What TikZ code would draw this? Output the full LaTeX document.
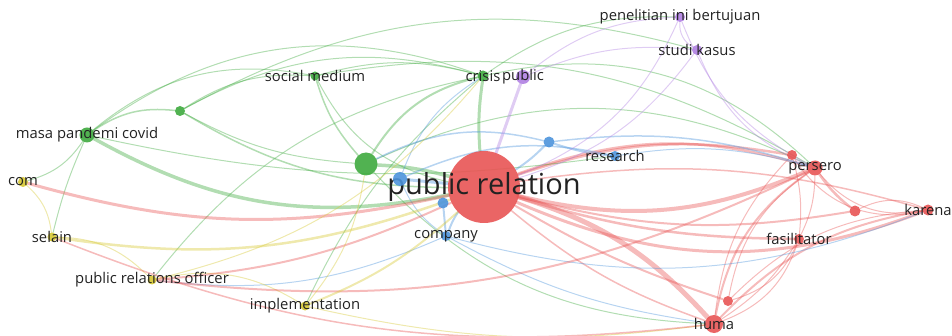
\documentclass[tikz,border=0pt]{standalone}
\usepackage{fontspec}
\setmainfont{Open Sans}
\usetikzlibrary{backgrounds}

\definecolor{vosred}{RGB}{232,84,84}
\definecolor{vosgreen}{RGB}{62,170,62}
\definecolor{vosblue}{RGB}{76,148,220}
\definecolor{vosyellow}{RGB}{214,200,50}
\definecolor{vospurple}{RGB}{176,128,226}
\definecolor{voslabel}{RGB}{34,34,34}

\tikzset{
  kw/.style={circle, inner sep=0pt, fill=#1, fill opacity=0.9, draw=none},
  lbl/.style={text=voslabel, opacity=1, font=\fontsize{14.8}{14.8}\selectfont},
  biglbl/.style={text=voslabel, opacity=1, font=\fontsize{29}{29}\selectfont},
  link/.style={draw=#1, draw opacity=0.4, line cap=round}
}

\begin{document}
\begin{tikzpicture}[x=1pt, y=-1pt]
\useasboundingbox (0,0) rectangle (952,336);

% red cluster
\node[kw=vosred, minimum size=72pt, label={[biglbl]center:public relation}] (pr) at (484,187) {};
\node[kw=vosred, minimum size=18pt, label={[lbl]center:huma}] (huma) at (714,324) {};
\node[kw=vosred, minimum size=15pt, label={[lbl]center:persero}] (persero) at (815,168) {};
\node[kw=vosred, minimum size=11pt, label={[lbl]center:karena}] (karena) at (928,210) {};
\node[kw=vosred, minimum size=10pt, label={[lbl]center:fasilitator}] (fasil) at (799,239) {};
\node[kw=vosred, minimum size=10pt] (ra) at (792,155) {};
\node[kw=vosred, minimum size=11pt] (rb) at (855,211) {};
\node[kw=vosred, minimum size=10pt] (rc) at (728,301) {};

% green cluster
\node[kw=vosgreen, minimum size=23pt] (gbig) at (366,164) {};
\node[kw=vosgreen, minimum size=10pt] (gsmall) at (180,111) {};
\node[kw=vosgreen, minimum size=15pt, label={[lbl]center:masa pandemi covid}] (masa) at (87,135) {};
\node[kw=vosgreen, minimum size=9pt, label={[lbl]center:social medium}] (social) at (315,76) {};
\node[kw=vosgreen, minimum size=11pt, label={[lbl]center:crisis}] (crisis) at (483,76) {};

% blue cluster
\node[kw=vosblue, minimum size=14pt] (ba) at (400,179) {};
\node[kw=vosblue, minimum size=11pt] (bb) at (443,203) {};
\node[kw=vosblue, minimum size=11pt] (bc) at (549,142) {};
\node[kw=vosblue, minimum size=10pt, label={[lbl]center:company}] (company) at (446,236) {};
\node[kw=vosblue, minimum size=10pt, label={[lbl]center:research}] (research) at (615,156) {};

% purple cluster
\node[kw=vospurple, minimum size=14pt, label={[lbl]center:public}] (public) at (523,77) {};
\node[kw=vospurple, minimum size=10pt, label={[lbl]center:penelitian ini bertujuan}] (penelitian) at (680,17) {};
\node[kw=vospurple, minimum size=10pt, label={[lbl]center:studi kasus}] (studi) at (697,50) {};

% yellow cluster
\node[kw=vosyellow, minimum size=10pt, label={[lbl]center:com}] (com) at (23,182) {};
\node[kw=vosyellow, minimum size=9pt, label={[lbl]center:selain}] (selain) at (52,237) {};
\node[kw=vosyellow, minimum size=9pt, label={[lbl]center:public relations officer}] (officer) at (152,280) {};
\node[kw=vosyellow, minimum size=9pt, label={[lbl]center:implementation}] (implementation) at (305,306) {};

\begin{pgfonlayer}{background}
% links: from/to/colour/width/bend
\foreach \a/\b/\c/\w/\bb in {
  pr/huma/vosred/5/15, pr/persero/vosred/4/-18, pr/persero/vosred/2.5/18,
  pr/karena/vosred/3/-22, pr/fasil/vosred/2.5/-8, pr/ra/vosred/2.5/14,
  pr/rb/vosred/2/-12, pr/rc/vosred/2/-6, huma/persero/vosred/2/22,
  huma/karena/vosred/2/18, persero/rb/vosred/2.5/-8, persero/fasil/vosred/1/12,
  persero/karena/vosred/1/-30, ra/karena/vosred/1/-35, rb/karena/vosred/1/25,
  fasil/huma/vosred/1/12, rc/persero/vosred/1/22, rc/fasil/vosred/1/-25,
  huma/ra/vosred/1/18, rc/karena/vosred/1/20, huma/fasil/vosred/1/-25,
  ra/fasil/vosred/1/10, pr/huma/vosred/1.5/-10, pr/karena/vosred/1.5/12,
  masa/gsmall/vosgreen/1.5/20, masa/pr/vosgreen/3.5/-20, masa/social/vosgreen/1/25,
  masa/crisis/vosgreen/1/28, masa/com/vosgreen/1/20, masa/selain/vosgreen/1/-5,
  gsmall/crisis/vosgreen/1/22, gsmall/pr/vosgreen/1.5/-15, gsmall/gbig/vosgreen/1/-12,
  gsmall/social/vosgreen/1/18, social/gbig/vosgreen/1.5/-12, social/pr/vosgreen/1/-25,
  social/crisis/vosgreen/1/15, gbig/crisis/vosgreen/2/22, gbig/pr/vosgreen/3.5/6,
  crisis/pr/vosgreen/3/-6, crisis/penelitian/vosgreen/1/18, gbig/huma/vosgreen/1/-22,
  gbig/persero/vosgreen/1/25, crisis/persero/vosgreen/1/28, gsmall/studi/vosgreen/1/22,
  social/persero/vosgreen/1/20, crisis/officer/vosgreen/1/-20, crisis/implementation/vosgreen/1/-12,
  masa/research/vosgreen/1/-10,
  ba/pr/vosblue/3/0, ba/research/vosblue/1.5/18, bc/research/vosblue/2/-6,
  bc/pr/vosblue/2/6, bb/company/vosblue/2/0, company/pr/vosblue/2/8,
  research/persero/vosblue/1/12, company/karena/vosblue/1/-18, ba/company/vosblue/1/-15,
  gbig/bc/vosblue/1.5/20, company/huma/vosblue/1/-10, bc/persero/vosblue/1.5/12,
  ba/crisis/vosblue/1/18, company/officer/vosblue/1/15,
  public/pr/vospurple/3/0, public/penelitian/vospurple/1/18, public/studi/vospurple/1/14,
  studi/pr/vospurple/1/18, penelitian/pr/vospurple/1/22, studi/persero/vospurple/1/-22,
  penelitian/persero/vospurple/1/-20, penelitian/studi/vospurple/1/-30,
  com/selain/vosyellow/1/20, com/pr/vosred/3/-14, selain/officer/vosyellow/1/22,
  selain/pr/vosyellow/2.5/-14, officer/implementation/vosyellow/1/22,
  officer/pr/vosred/2/-10, officer/persero/vosred/2/-16, implementation/pr/vosyellow/2/-10,
  implementation/huma/vosyellow/1/-10, officer/crisis/vosyellow/1/-18,
  selain/huma/vosred/1.5/-14, implementation/gbig/vosyellow/1/-15
}
  \draw[link=\c, line width=\w pt] (\a) to[bend left=\bb] (\b);
\end{pgfonlayer}
\end{tikzpicture}
\end{document}
